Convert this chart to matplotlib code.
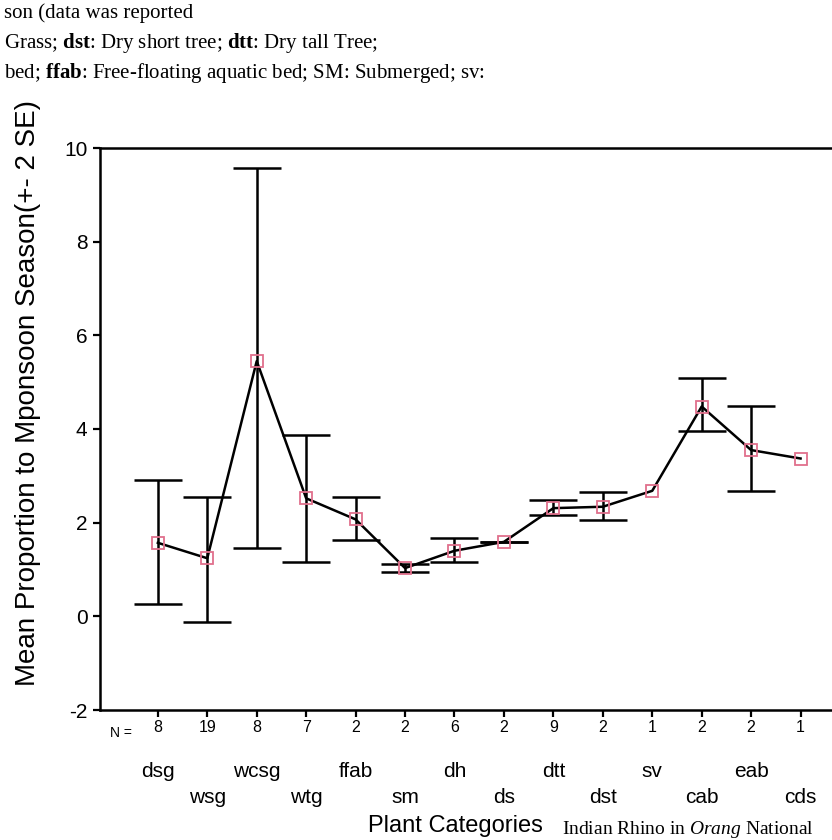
import numpy as np
import matplotlib.pyplot as plt

# plant categories along the x axis, with the N = row under the ticks
categories = ['dsg', 'wsg', 'wcsg', 'wtg', 'ffab', 'sm', 'dh', 'ds',
              'dtt', 'dst', 'sv', 'cab', 'eab', 'cds']
n_counts = [8, 19, 8, 7, 2, 2, 6, 2, 9, 2, 1, 2, 2, 1]

# mean proportion and the +- 2 SE ends
means = [1.57, 1.24, 5.45, 2.52, 2.07, 1.03, 1.40, 1.59, 2.31, 2.34, 2.68, 4.48, 3.55, 3.37]
upper = [2.91, 2.55, 9.57, 3.87, 2.55, 1.11, 1.68, 1.59, 2.48, 2.66, 2.68, 5.08, 4.49, 3.37]
lower = [0.26, -0.12, 1.45, 1.17, 1.63, 0.95, 1.17, 1.59, 2.16, 2.06, 2.68, 3.96, 2.67, 3.37]

yticks = [-2, 0, 2, 4, 6, 8, 10]

plt.rcParams['font.family'] = ['Liberation Sans', 'DejaVu Sans']
plt.rcParams['mathtext.fontset'] = 'custom'
plt.rcParams['mathtext.rm'] = 'Liberation Serif'
plt.rcParams['mathtext.it'] = 'Liberation Serif:italic'
plt.rcParams['mathtext.bf'] = 'Liberation Serif:bold'

W, H = 832, 840
fig = plt.figure(figsize=(W / 100, H / 100), dpi=100)
# plot frame runs off the right edge like in the scan
ax = fig.add_axes([100 / W, 130 / H, 750 / W, 562 / H])

x = np.arange(len(categories))
m = np.array(means)
up = np.array(upper) - m
lo = m - np.array(lower)
has_se = np.array(n_counts) > 1

ax.errorbar(x[has_se], m[has_se], yerr=[lo[has_se], up[has_se]], fmt='none',
            ecolor='black', elinewidth=1.8, capsize=17, capthick=1.8, zorder=2)
ax.plot(x, m, color='black', lw=1.8, zorder=3)
ax.plot(x, m, ls='none', marker='s', ms=9, mfc='none', mec='#e0708c', mew=1.3, zorder=4)

ax.set_xlim(-1.17, 14.0)
ax.set_ylim(-2, 10)
ax.set_yticks(yticks)
ax.set_yticklabels([str(t) for t in yticks], fontsize=15)
ax.set_xticks(x)
ax.set_xticklabels([str(n) for n in n_counts], fontsize=11.5)
ax.tick_params(axis='both', direction='out', width=1.6, color='black')
ax.tick_params(axis='y', length=5, pad=4)
ax.tick_params(axis='x', length=5, pad=2)
for s in ax.spines.values():
    s.set_linewidth(1.8)

# category names in two staggered rows
for i, cat in enumerate(categories):
    off = 44 if i % 2 == 0 else 63
    ax.annotate(cat, xy=(i, 0), xycoords=('data', 'axes fraction'),
                xytext=(0, -off), textcoords='offset points',
                ha='center', va='center', fontsize=15)

fig.text(110 / W, 1 - 733 / H, 'N =', fontsize=10, va='center', ha='left')
fig.text(28 / W, 1 - 393 / H, 'Mean Proportion to Mponsoon Season(+- 2 SE)',
         rotation=90, fontsize=20, va='center', ha='center')
fig.text(455 / W, 1 - 826 / H, 'Plant Categories', fontsize=17, va='center', ha='center')

# bits of the book page caption around the chart
serif = ['Liberation Serif', 'DejaVu Serif']
fig.text(4 / W, 1 - 18 / H, 'son (data was reported', family=serif, fontsize=15, va='baseline')
fig.text(4 / W, 1 - 48 / H, r'Grass; $\mathbf{dst}$: Dry short tree; $\mathbf{dtt}$: Dry tall Tree;',
         family=serif, fontsize=15, va='baseline')
fig.text(4 / W, 1 - 78 / H, r'bed; $\mathbf{ffab}$: Free-floating aquatic bed; SM: Submerged; sv:',
         family=serif, fontsize=15, va='baseline')
fig.text(562 / W, 1 - 834 / H, r'Indian Rhino in $\mathit{Orang}$ National',
         family=serif, fontsize=14, va='baseline')

fig.savefig('out.png', dpi=100)
